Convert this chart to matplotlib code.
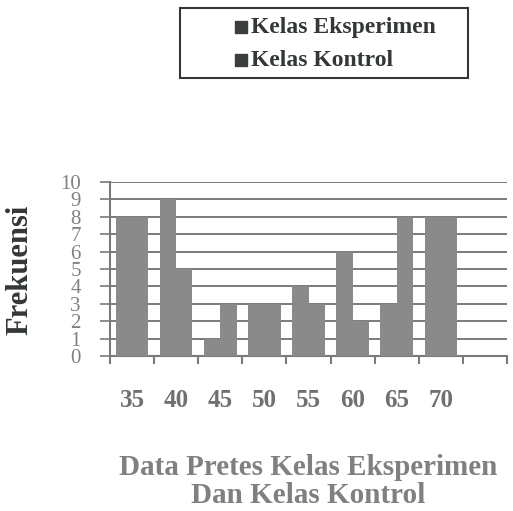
import numpy as np
import matplotlib
matplotlib.use('Agg')
import matplotlib.pyplot as plt
from matplotlib.patches import Rectangle

plt.rcParams['font.family'] = ['Liberation Serif', 'DejaVu Serif']

# data
kategori = ['35', '40', '45', '50', '55', '60', '65', '70']
eksperimen = [8, 9, 1, 3, 4, 6, 3, 8]
kontrol = [8, 5, 3, 3, 3, 2, 8, 8]
y_ticks = list(range(0, 11))

BAR = '#8a8a8a'
GRID = '#7a7a7a'
TEXT_GRAY = '#808080'
DARK = '#333833'

fig = plt.figure(figsize=(5.13, 5.11), dpi=100)
ax = fig.add_axes([110 / 513, 1 - 356 / 511, 397 / 513, 174 / 511])

x = np.arange(len(kategori))
w = 0.37
ax.bar(x - w / 2, eksperimen, w, color=BAR, zorder=3, label='Kelas Eksperimen')
ax.bar(x + w / 2, kontrol, w, color=BAR, zorder=3, label='Kelas Kontrol')

ax.set_xlim(-0.5, len(kategori) + 0.5)
ax.set_ylim(0, 10)

# horizontal grid
ax.set_yticks(y_ticks)
ax.yaxis.grid(True, color=GRID, linewidth=1.4, zorder=1)
ax.set_yticklabels([str(v) for v in y_ticks], fontsize=15, color=TEXT_GRAY)
ax.tick_params(axis='y', length=7, width=1.2, color=GRID, pad=14)

# x ticks at slot boundaries, labels at slot centres
ax.set_xticks(np.arange(-0.5, len(kategori) + 1, 1.0))
ax.set_xticklabels([])
ax.tick_params(axis='x', which='major', length=6, width=1.5, color=GRID)
ax.set_xticks(x, minor=True)
ax.set_xticklabels(kategori, minor=True, fontsize=18, fontweight='bold', color='#707070')
ax.tick_params(axis='x', which='minor', length=0, pad=24)

for s in ['top', 'right']:
    ax.spines[s].set_visible(False)
for s in ['left', 'bottom']:
    ax.spines[s].set_color(GRID)
    ax.spines[s].set_linewidth(1.5)

fig.text(20 / 513, 1 - 270 / 511, 'Frekuensi', rotation=90, ha='center', va='center',
         fontsize=22, fontweight='bold', color=DARK)

fig.text(308 / 513, 1 - 467 / 511, 'Data Pretes Kelas Eksperimen', ha='center', va='center',
         fontsize=21, fontweight='bold', color=TEXT_GRAY)
fig.text(308 / 513, 1 - 495 / 511, 'Dan Kelas Kontrol', ha='center', va='center',
         fontsize=21, fontweight='bold', color=TEXT_GRAY)

# legend box
fig.patches.append(Rectangle((180 / 513, 1 - 78 / 511), 288 / 513, 70 / 511,
                             transform=fig.transFigure, fill=False,
                             edgecolor=DARK, linewidth=1.5))
leg_y = [27, 60]
for lbl, yy in zip(['Kelas Eksperimen', 'Kelas Kontrol'], leg_y):
    fig.patches.append(Rectangle((235 / 513, 1 - (yy + 6) / 511), 12 / 513, 12 / 511,
                                 transform=fig.transFigure, color='#3a3f3d'))
    fig.text(251 / 513, 1 - yy / 511, lbl, ha='left', va='center',
             fontsize=17, fontweight='bold', color=DARK)

fig.savefig('out.png', dpi=100)
